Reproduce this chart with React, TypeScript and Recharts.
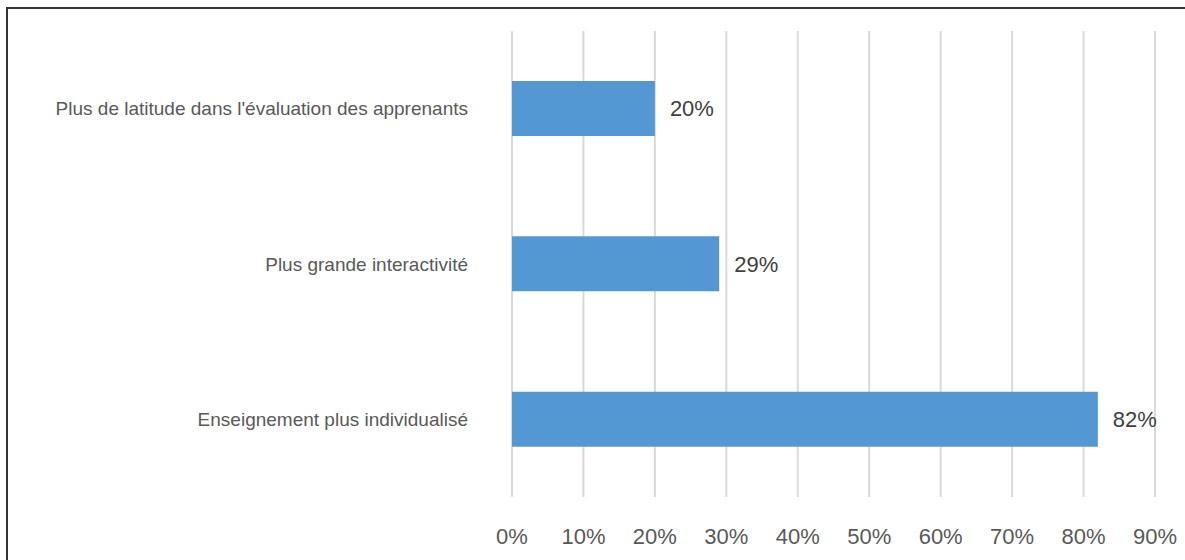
import { BarChart, Bar, XAxis, YAxis, CartesianGrid, LabelList } from 'recharts'

const categories = [
  "Plus de latitude dans l'évaluation des apprenants",
  'Plus grande interactivité',
  'Enseignement plus individualisé',
]
const shares = [20, 29, 82]
const xTicks = [0, 10, 20, 30, 40, 50, 60, 70, 80, 90]

const data = categories.map((name, i) => ({ name, value: shares[i] }))

const FONT = '"Liberation Sans", Arial, sans-serif'

export default function App() {
  return (
    <div
      style={{
        position: 'fixed',
        left: 6,
        top: 7,
        width: 1179,
        height: 553,
        borderTop: '2px solid #333',
        borderLeft: '2px solid #333',
        boxSizing: 'border-box',
        background: '#fff',
        overflow: 'hidden',
      }}
    >
      <BarChart
        width={1177}
        height={551}
        data={data}
        layout="vertical"
        margin={{ top: 22, right: 30, bottom: 0, left: 0 }}
        barSize={55}
      >
        <CartesianGrid horizontal={false} stroke="#d9d9d9" strokeWidth={2} />
        <XAxis
          type="number"
          domain={[0, 90]}
          ticks={xTicks}
          tickFormatter={(v: number) => `${v}%`}
          axisLine={false}
          tickLine={false}
          tickSize={0}
          tickMargin={31}
          height={63}
          interval={0}
          tick={{ fontSize: 22, fill: '#595959', fontFamily: FONT }}
        />
        <YAxis
          type="category"
          dataKey="name"
          width={504}
          axisLine={false}
          tickLine={false}
          tickSize={0}
          tickMargin={44}
          tick={{ fontSize: 19, fill: '#595959', fontFamily: FONT }}
        />
        <Bar dataKey="value" fill="#5397d3" isAnimationActive={false}>
          <LabelList
            dataKey="value"
            position="right"
            offset={15}
            formatter={(v: number) => `${v}%`}
            style={{ fontSize: 22, fill: '#404040', fontFamily: FONT }}
          />
        </Bar>
      </BarChart>
    </div>
  )
}
